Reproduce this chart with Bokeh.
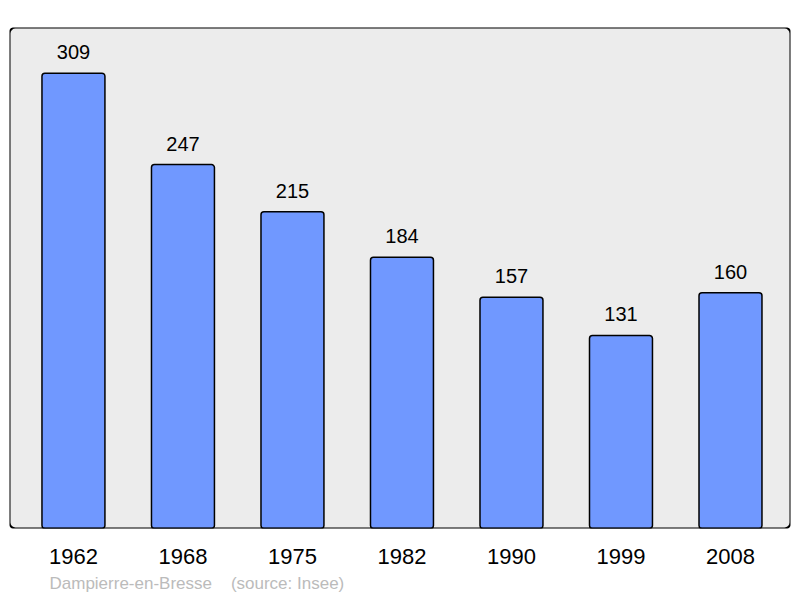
from bokeh.plotting import figure
from bokeh.models import Range1d, BoxAnnotation, Title, ColumnDataSource, FixedTicker
from bokeh.core.properties import value
from bokeh.embed import file_html
from bokeh.resources import INLINE

years = ["1962", "1968", "1975", "1982", "1990", "1999", "2008"]
population = [309, 247, 215, 184, 157, 131, 160]
value_labels = [str(v) for v in population]
caption = "Dampierre-en-Bresse\u00a0\u00a0\u00a0\u00a0(source: Insee)"

FONT = "Liberation Sans"

idx = list(range(len(years)))
src = ColumnDataSource(dict(x=idx, top=population, lab=value_labels))

p = figure(
    width=800, height=598,
    x_range=Range1d(-0.584, len(years) - 1 + 0.548),
    y_range=Range1d(0, 340),
    output_backend="svg", toolbar_location=None,
    min_border_left=9, min_border_right=10, min_border_top=27, min_border_bottom=70,
    background_fill_color="#ffffff", border_fill_color="#ffffff",
)
p.outline_line_color = None
p.grid.visible = False
p.yaxis.visible = False

# frame background and border
p.add_layout(BoxAnnotation(fill_color="#ececec", fill_alpha=1, line_color=None,
                           border_radius=6, level="underlay"))

p.vbar(x="x", top="top", width=0.575, bottom=0, source=src,
       fill_color="#7098ff", line_color="#000000", line_width=1.5, border_radius=3)

p.text(x="x", y="top", text="lab", source=src, y_offset=-21,
       text_font=value(FONT), text_font_size="20px", text_color="#000000",
       text_align="center", text_baseline="middle")

p.add_layout(BoxAnnotation(fill_alpha=0, line_color="#000000", line_alpha=1, line_width=2,
                           border_radius=6, level="overlay"))

xa = p.xaxis[0]
xa.ticker = FixedTicker(ticks=idx)
xa.major_label_overrides = {i: y for i, y in zip(idx, years)}
xa.axis_line_color = None
xa.major_tick_line_color = None
xa.minor_tick_line_color = None
xa.major_tick_out = 0
xa.major_tick_in = 0
xa.major_label_standoff = 20
xa.major_label_text_font = FONT
xa.major_label_text_font_size = "22px"
xa.major_label_text_color = "#000000"

p.add_layout(Title(text=caption, align="left", offset=40, standoff=10,
                   text_font=FONT, text_font_size="17px", text_font_style="normal",
                   text_color="#bbbbbb"), "below")

open("out.html", "w").write(file_html(p, INLINE))
